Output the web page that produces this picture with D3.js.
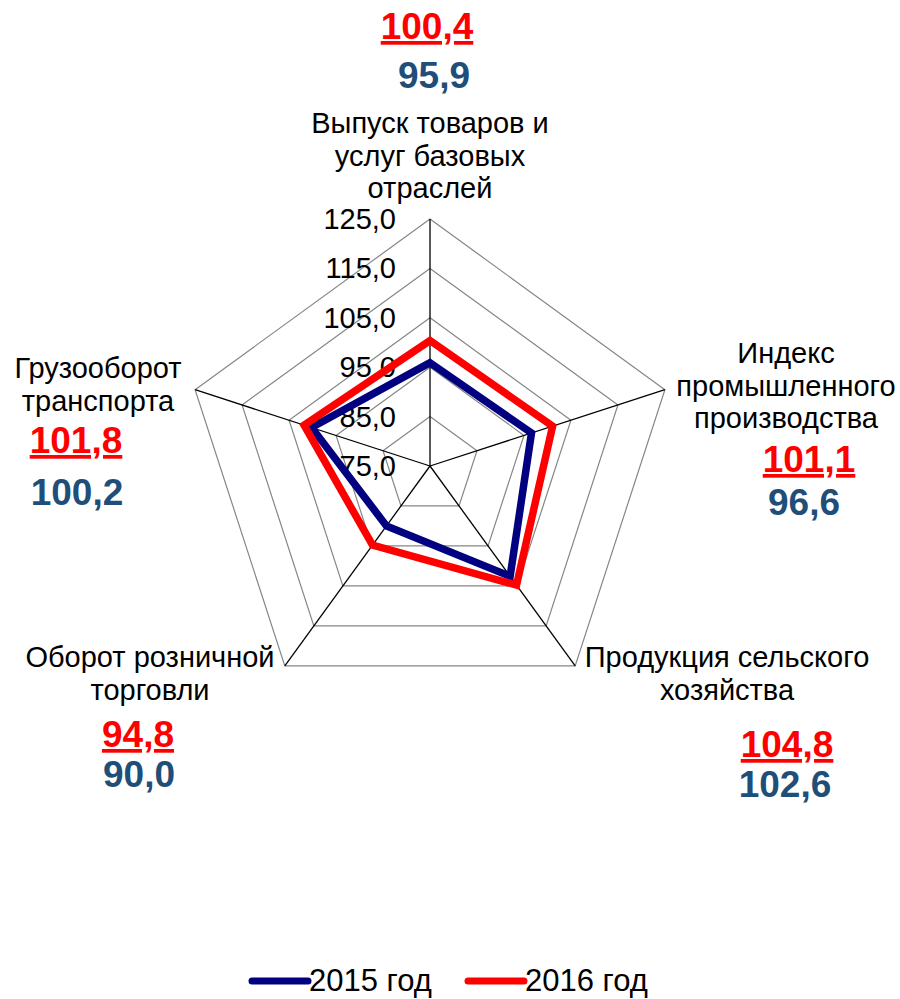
<!DOCTYPE html>
<html>
<head>
<meta charset="utf-8">
<script src="https://cdn.jsdelivr.net/npm/d3@7"></script>
<style>
  body { margin: 0; background: #fff; }
  text { font-family: "Liberation Sans", Arial, sans-serif; }
</style>
</head>
<body>
<div id="chart"></div>
<script>
// data
const categories = [
    ["Выпуск товаров и", "услуг базовых", "отраслей"],
    ["Индекс", "промышленного", "производства"],
    ["Продукция сельского", "хозяйства"],
    ["Оборот розничной", "торговли"],
    ["Грузооборот", "транспорта"]
];
const values2015 = [95.9, 96.6, 102.6, 90.0, 100.2];
const values2016 = [100.4, 101.1, 104.8, 94.8, 101.8];
const ticks = [75, 85, 95, 105, 115, 125];
const seriesNames = ["2015 год", "2016 год"];
const colors2015 = { line: "#000080", label: "#1F4E79" };
const colors2016 = { line: "#FF0000", label: "#FF0000" };

// where the category names and value boxes sit (x center, first baseline)
const catPos = [[430, 133], [786, 363], [727, 667], [150, 667], [98, 378]];
const valPos = [[[434, 88], [427, 39]], [[804, 515], [809, 472]], [[785, 797], [787, 757]], [[139, 787], [138, 747]], [[77, 505], [76, 453]]];

function drawChart(container) {
    const width = 900;
    const height = 999;
    const cx = 430, cy = 466;
    const fmt = v => v.toFixed(1).replace(".", ",");

    const r = d3.scaleLinear().domain([75, 125]).range([0, 247]);
    const angle = d3.scaleLinear().domain([0, categories.length]).range([0, 2 * Math.PI]);
    const pt = (i, v) => [cx + r(v) * Math.sin(angle(i)), cy - r(v) * Math.cos(angle(i))];

    const svg = d3.select(container).append("svg")
        .attr("width", width)
        .attr("height", height);

    // rings
    svg.append("g")
        .attr("fill", "none")
        .attr("stroke", "#868686")
        .attr("stroke-width", 1.2)
        .selectAll("polygon")
        .data(ticks.slice(1))
        .join("polygon")
        .attr("points", t => categories.map((c, i) => pt(i, t).join(",")).join(" "));

    // spokes
    svg.append("g")
        .attr("stroke", "#000")
        .attr("stroke-width", 1.3)
        .selectAll("line")
        .data(categories)
        .join("line")
        .attr("x1", cx)
        .attr("y1", cy)
        .attr("x2", (d, i) => pt(i, 125)[0])
        .attr("y2", (d, i) => pt(i, 125)[1]);

    // tick labels
    svg.append("g")
        .selectAll("text")
        .data(ticks)
        .join("text")
        .attr("x", 396)
        .attr("y", t => cy - r(t) + 10)
        .attr("text-anchor", "end")
        .attr("font-size", 29)
        .attr("fill", "#000")
        .text(fmt);

    // series
    const line = d3.line().curve(d3.curveLinearClosed);
    [[values2015, colors2015], [values2016, colors2016]].forEach(([vals, col]) => {
        svg.append("path")
            .attr("d", line(vals.map((v, i) => pt(i, v))))
            .attr("fill", "none")
            .attr("stroke", col.line)
            .attr("stroke-width", 7.5)
            .attr("stroke-linejoin", "miter");
    });

    // category names
    categories.forEach((lines, i) => {
        const t = svg.append("text")
            .attr("text-anchor", "middle")
            .attr("font-size", 29)
            .attr("fill", "#000");
        lines.forEach((s, k) => {
            t.append("tspan")
                .attr("x", catPos[i][0])
                .attr("y", catPos[i][1] + k * 32.5)
                .text(s);
        });
    });

    // value labels
    categories.forEach((c, i) => {
        svg.append("text")
            .attr("x", valPos[i][1][0])
            .attr("y", valPos[i][1][1])
            .attr("text-anchor", "middle")
            .attr("font-size", 37)
            .attr("font-weight", "bold")
            .attr("text-decoration", "underline")
            .attr("fill", colors2016.label)
            .text(fmt(values2016[i]));
        svg.append("text")
            .attr("x", valPos[i][0][0])
            .attr("y", valPos[i][0][1])
            .attr("text-anchor", "middle")
            .attr("font-size", 37)
            .attr("font-weight", "bold")
            .attr("fill", colors2015.label)
            .text(fmt(values2015[i]));
    });

    // legend
    const legend = svg.append("g")
        .selectAll("g")
        .data(seriesNames)
        .join("g")
        .attr("transform", (d, i) => `translate(${252 + i * 216},981)`);
    legend.append("line")
        .attr("x1", 0)
        .attr("x2", 56)
        .attr("stroke", (d, i) => i ? colors2016.line : colors2015.line)
        .attr("stroke-width", 7)
        .attr("stroke-linecap", "round");
    legend.append("text")
        .attr("x", 57)
        .attr("y", 10)
        .attr("font-size", 31)
        .attr("fill", "#000")
        .text(d => d);
}

drawChart("#chart");
</script>
</body>
</html>
